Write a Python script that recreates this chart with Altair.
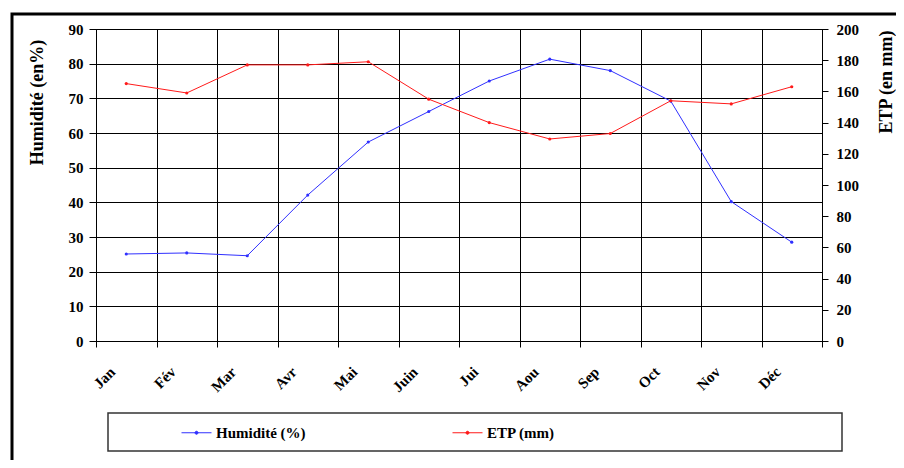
import altair as alt
import pandas as pd

months = ["Jan", "Fév", "Mar", "Avr", "Mai", "Juin", "Jui", "Aou", "Sep", "Oct", "Nov", "Déc"]
humidite = [25.1, 25.4, 24.6, 42.1, 57.4, 66.2, 75.0, 81.3, 78.0, 69.2, 40.2, 28.5]
etp = [165, 159, 177, 177, 179, 155, 140, 129.5, 133, 154, 152, 163]
series = ["Humidité (%)", "ETP (mm)"]
colors = ["#3030ff", "#ff1a1a"]
hum_ticks = list(range(0, 91, 10))
etp_ticks = list(range(0, 201, 20))

df_h = pd.DataFrame({"mois": months, "valeur": humidite, "serie": series[0]})
df_e = pd.DataFrame({"mois": months, "valeur": etp, "serie": series[1]})

FONT = "Liberation Serif"

x_enc = alt.X(
    "mois:N", sort=months, bandPosition=0.5,
    scale=alt.Scale(type="band", paddingInner=0, paddingOuter=0),
    axis=alt.Axis(title=None, tickBand="extent", labelAngle=-45, labelFont=FONT, labelFontSize=15,
                  labelFontWeight="bold", labelColor="black", labelOffset=-19, labelPadding=17,
                  tickSize=6, grid=True, gridColor="black", gridWidth=1,
                  labelAlign="right", labelBaseline="top"),
)

color_enc = alt.Color(
    "serie:N",
    scale=alt.Scale(domain=series, range=colors),
    legend=alt.Legend(
        orient="none", legendX=85, legendY=388, direction="horizontal", title=None,
        symbolType="M-1,0H1M0.1,0A0.1,0.1,0,1,1,-0.1,0A0.1,0.1,0,1,1,0.1,0",
        symbolSize=900, symbolStrokeWidth=1, labelFont=FONT, labelFontSize=15,
        labelFontWeight="bold", labelColor="black", labelOffset=4, columnPadding=144, padding=0,
    ),
)

hum = alt.Chart(df_h).mark_line(strokeWidth=1, point=alt.OverlayMarkDef(size=10, filled=True)).encode(
    x=x_enc,
    y=alt.Y("valeur:Q", scale=alt.Scale(domain=[0, 90], nice=False),
            axis=alt.Axis(orient="left", values=hum_ticks, title="Humidité (en%)", grid=True,
                          gridColor="black", gridWidth=1, tickSize=7, labelPadding=6,
                          labelFont=FONT, labelFontSize=15, labelFontWeight="bold", labelColor="black",
                          titleFont=FONT, titleFontSize=18, titleFontWeight="bold", titleColor="black",
                          titleAngle=-90, titleX=-59, titleY=73, titleAlign="center",
                          titleBaseline="middle")),
    color=color_enc,
)

etp_layer = alt.Chart(df_e).mark_line(strokeWidth=1, point=alt.OverlayMarkDef(size=10, filled=True)).encode(
    x=x_enc,
    y=alt.Y("valeur:Q", scale=alt.Scale(domain=[0, 200], nice=False),
            axis=alt.Axis(orient="right", values=etp_ticks, title="ETP (en mm)", grid=False,
                          tickSize=6, labelPadding=8, labelFont=FONT, labelFontSize=15,
                          labelFontWeight="bold", labelColor="black",
                          titleFont=FONT, titleFontSize=18, titleFontWeight="bold", titleColor="black",
                          titleAngle=-90, titleX=64, titleY=104, titleAlign="left",
                          titleBaseline="middle")),
    color=color_enc,
)

one = pd.DataFrame({"k": [0]})
frame = alt.Chart(one).mark_rect(fillOpacity=0, stroke="black", strokeWidth=3).encode(
    x=alt.value(-84), x2=alt.value(820), y=alt.value(-15), y2=alt.value(450)
)
legend_box = alt.Chart(one).mark_rect(fillOpacity=0, stroke="#333333", strokeWidth=1.5).encode(
    x=alt.value(12), x2=alt.value(746), y=alt.value(384), y2=alt.value(422)
)

chart = alt.layer(frame, legend_box, hum, etp_layer).resolve_scale(y="independent").properties(
    width=726, height=312,
    autosize=alt.AutoSizeParams(type="none"),
    padding={"left": 88, "top": 21, "right": 74, "bottom": 119},
).configure(background="white", font=FONT).configure_axis(
    labelFont=FONT, titleFont=FONT, labelColor="black", titleColor="black",
    domainColor="black", tickColor="black",
).configure_legend(labelFont=FONT).configure_view(stroke="black", strokeWidth=1)

chart.save("out.html", embed_options={"renderer": "svg", "actions": False})
